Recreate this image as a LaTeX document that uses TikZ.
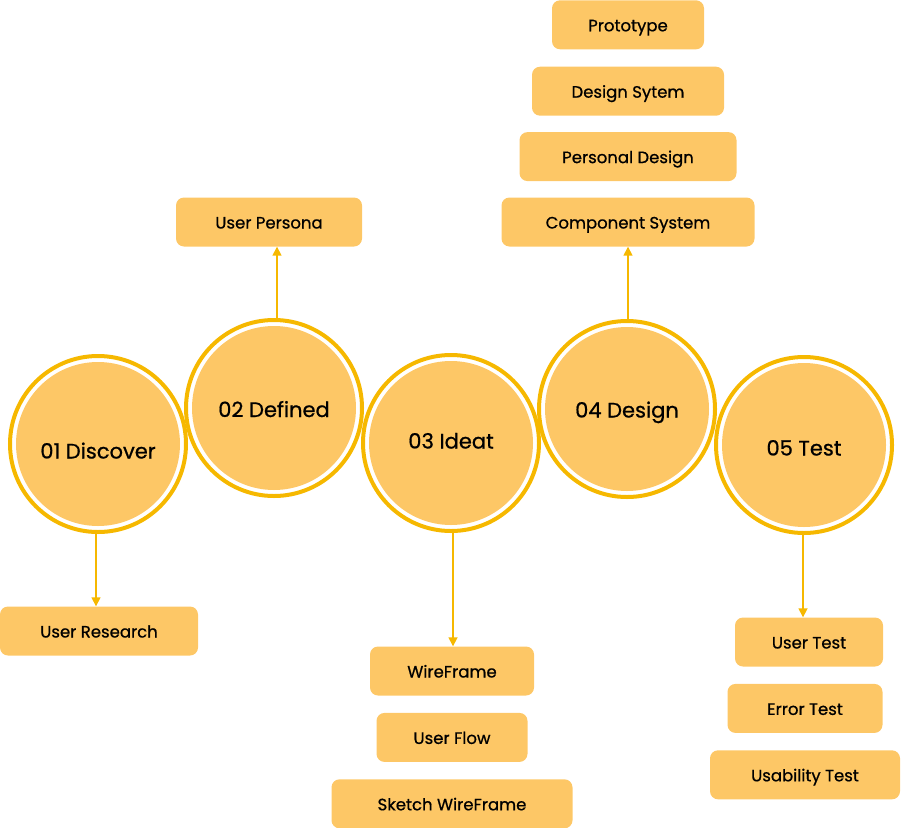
\documentclass[tikz,border=0pt]{standalone}
\usepackage{fontspec}
\setmainfont{Poppins}[FakeBold=0.7]
\usepackage{tikz}
\usetikzlibrary{positioning,arrows.meta}

\definecolor{ringc}{HTML}{F6B800}
\definecolor{fillc}{HTML}{FDC766}

\begin{document}
\begin{tikzpicture}[
    x=1pt, y=-1pt,
    font=\fontsize{16.5}{18}\selectfont,
    % Styles
    phase/.style={
        circle,
        fill=fillc,
        minimum size=164pt,
        inner sep=0pt,
        outer sep=8pt,
        text height=18pt,
        text depth=0pt,
        font=\fontsize{21}{24}\selectfont
    },
    ring/.style={draw=ringc, line width=4pt},
    task/.style={
        rectangle,
        rounded corners=8pt,
        fill=fillc,
        minimum height=49pt,
        inner sep=0pt,
        text height=13pt,
        text depth=0pt,
        text centered
    },
    % Line Styles
    link/.style={draw=ringc, line width=1.6pt, -{Triangle[length=9pt,width=9pt]}}
]
\useasboundingbox (0,0) rectangle (901,827);

% --- Phases ---
\node[phase, text height=29pt] (Discover) at (98,444) {01 Discover};
\node[phase] (Defined) at (274,408) {02 Defined};
\node[phase, text height=11pt] (Ideat) at (451,443) {03 Ideat};
\node[phase, text height=17pt] (Design) at (627,409) {04 Design};
\node[phase, text height=21pt] (Test) at (804,445) {05 Test};

\draw[ring] (Discover) circle[radius=88pt];
\draw[ring] (Defined) circle[radius=88pt];
\draw[ring] (Ideat) circle[radius=88pt];
\draw[ring] (Design) circle[radius=88pt];
\draw[ring] (Test) circle[radius=88pt];

% --- Tasks ---

% Discover
\node[task, minimum width=198pt] (Research) at (99,631) {User Research};

% Defined
\node[task, minimum width=186pt] (Persona) at (269,222) {User Persona};

% Ideat
\node[task, minimum width=164pt] (WireFrame) at (452,671) {WireFrame};
\node[task, minimum width=151pt, below=17pt of WireFrame] (UserFlow) {User Flow};
\node[task, minimum width=241pt, below=17pt of UserFlow] (Sketch) {Sketch WireFrame};

% Design
\node[task, minimum width=253pt] (Component) at (628,222) {Component System};
\node[task, minimum width=217pt, above=16pt of Component] (Personal) {Personal Design};
\node[task, minimum width=192pt, above=16pt of Personal] (System) {Design Sytem};
\node[task, minimum width=152pt, above=17pt of System] (Prototype) {Prototype};

% Test
\node[task, minimum width=148pt] (UserTest) at (809,642) {User Test};
\node[task, minimum width=155pt, below=17pt of UserTest, xshift=-4pt] (ErrorTest) {Error Test};
\node[task, minimum width=190pt, below=17pt of ErrorTest] (Usability) {Usability Test};

% --- Links ---
\draw[link] ([xshift=-2pt]Discover.south) -- ([xshift=-2pt]Discover.south |- Research.north);
\draw[link] ([xshift=3pt]Defined.north) -- ([xshift=3pt]Defined.north |- Persona.south);
\draw[link] ([xshift=2pt]Ideat.south) -- ([xshift=2pt]Ideat.south |- WireFrame.north);
\draw[link] ([xshift=1pt]Design.north) -- ([xshift=1pt]Design.north |- Component.south);
\draw[link] ([xshift=-1pt]Test.south) -- ([xshift=-1pt]Test.south |- UserTest.north);

\end{tikzpicture}
\end{document}
